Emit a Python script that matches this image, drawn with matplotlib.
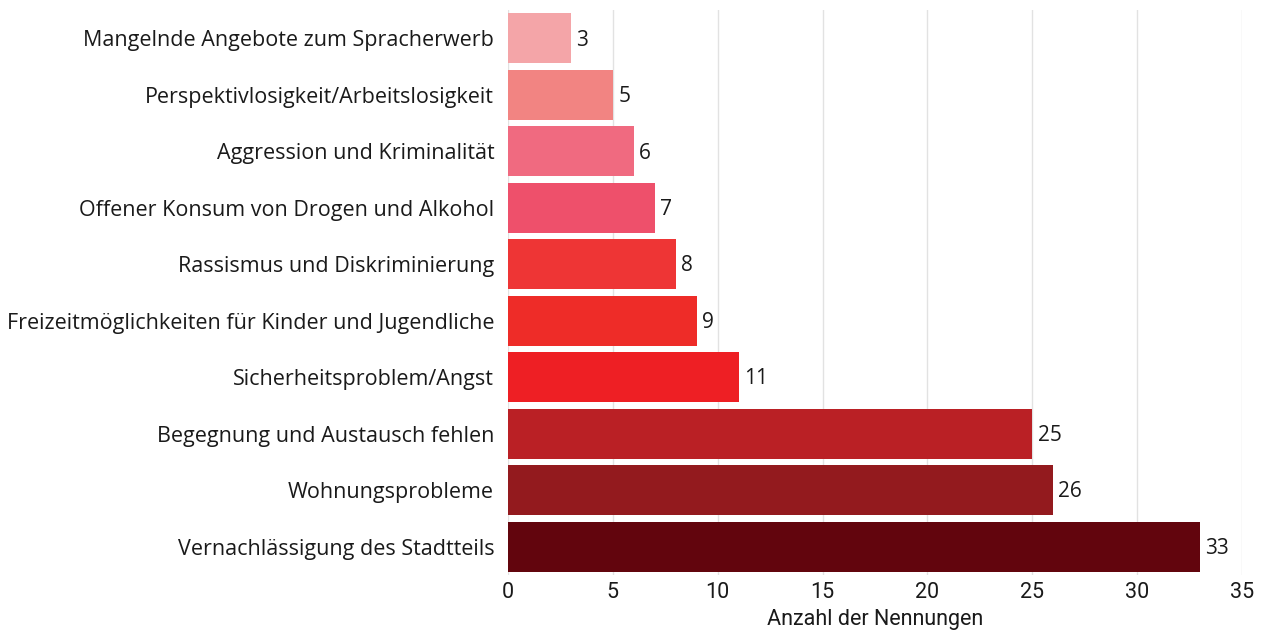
import matplotlib.pyplot as plt

# Kategorien und Anzahl der Nennungen (oben -> unten)
categories = [
    'Mangelnde Angebote zum Spracherwerb',
    'Perspektivlosigkeit/Arbeitslosigkeit',
    'Aggression und Kriminalität',
    'Offener Konsum von Drogen und Alkohol',
    'Rassismus und Diskriminierung',
    'Freizeitmöglichkeiten für Kinder und Jugendliche',
    'Sicherheitsproblem/Angst',
    'Begegnung und Austausch fehlen',
    'Wohnungsprobleme',
    'Vernachlässigung des Stadtteils',
]
counts = [3, 5, 6, 7, 8, 9, 11, 25, 26, 33]
colors = ['#F4A5A8', '#F28482', '#F06A80', '#EE506B', '#EE3535',
          '#EE2C28', '#EE1F24', '#BA2025', '#931A1E', '#62050D']
xticks = [0, 5, 10, 15, 20, 25, 30, 35]

plt.rcParams['font.family'] = ['Open Sans', 'DejaVu Sans']

fig = plt.figure(figsize=(12.66, 6.3), dpi=100)
ax = fig.add_axes([0.4013, 0.0873, 0.5797, 0.8967])

ypos = list(range(len(categories)))
ax.barh(ypos, counts, height=0.88, color=colors, zorder=2)
ax.set_ylim(len(categories) - 0.5, -0.5)
ax.set_xlim(0, 35)

for y, v in zip(ypos, counts):
    ax.text(v + 0.25, y + 0.03, str(v), va='center', ha='left', fontsize=15, color='#1a1a1a')

ax.set_yticks(ypos)
ax.set_yticklabels(categories, fontsize=15.5, color='#1a1a1a')
ax.set_xticks(xticks)
ax.set_xticklabels([str(t) for t in xticks], fontsize=15.5, color='#1a1a1a',
                   family=['Roboto', 'DejaVu Sans'])
ax.tick_params(axis='y', length=0, pad=10)
ax.tick_params(axis='x', length=0, pad=5)
ax.xaxis.grid(True, color='#E2E2E2', linewidth=1, zorder=0)
ax.set_axisbelow(True)
for s in ax.spines.values():
    s.set_visible(False)

ax.set_xlabel('Anzahl der Nennungen', fontsize=15.5, color='#1a1a1a',
              family=['Roboto', 'DejaVu Sans'], labelpad=4)

fig.savefig('out.png', dpi=100)
